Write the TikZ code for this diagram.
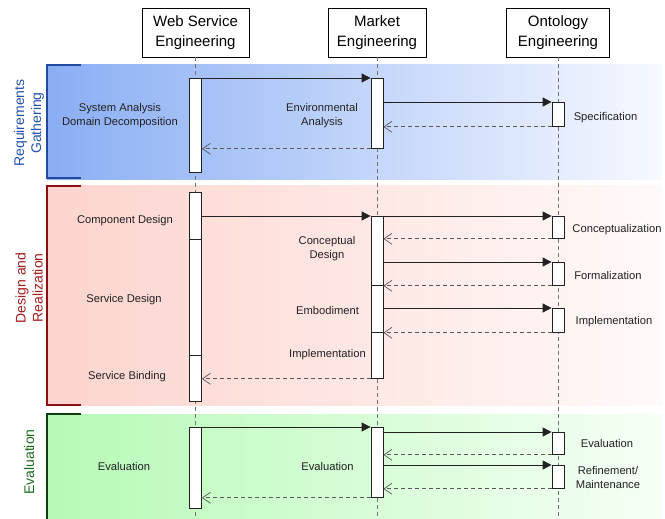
\documentclass[tikz,border=0pt]{standalone}
\usepackage{fontspec}
\setmainfont{Liberation Sans}
\usetikzlibrary{arrows.meta,calc}
\definecolor{reqC}{HTML}{2452AE}
\definecolor{desC}{HTML}{A51C1C}
\definecolor{evaC}{HTML}{1D6B1D}
\definecolor{reqB}{HTML}{1F4AA0}
\definecolor{desB}{HTML}{8B1010}
\definecolor{evaB}{HTML}{0E3E0E}
\definecolor{reqL}{HTML}{8AAEF4}
\definecolor{reqR}{HTML}{F7F9FF}
\definecolor{desL}{HTML}{FDD4CE}
\definecolor{desR}{HTML}{FFFAF9}
\definecolor{evaL}{HTML}{B6FAB6}
\definecolor{evaR}{HTML}{F6FFF6}
\definecolor{ink}{HTML}{222222}
\begin{document}
\begin{tikzpicture}[x=1pt,y=-1pt,
  hdr/.style={draw=black, line width=0.8pt, fill=white, minimum width=#1, minimum height=49pt, align=center, font=\fontsize{15}{20}\selectfont, inner sep=0pt},
  bar/.style={draw=ink, line width=0.8pt, fill=white, minimum width=12pt, minimum height=#1, inner sep=0pt, anchor=north},
  lbl/.style={align=center, font=\fontsize{11.2}{14}\selectfont, text=ink, inner sep=0pt},
  life/.style={draw=black!55, dash pattern=on 4pt off 3pt, line width=0.6pt},
  call/.style={draw=ink, line width=0.8pt, -{Triangle[length=9pt,width=9pt]}},
  ret/.style={draw=black!65, line width=0.7pt, dash pattern=on 4pt off 3pt, -{Straight Barb[length=8pt,width=11pt]}},
  side/.style={rotate=90, align=center, font=\fontsize{14}{17}\selectfont, inner sep=0pt},
  brk/.style={line width=1.4pt}
]
\useasboundingbox (0,0) rectangle (665,519);

% bands
\shade[left color=reqL, right color=reqR] (47,65) rectangle (662,179);
\shade[left color=desL, right color=desR] (47,185) rectangle (662,405);
\shade[left color=evaL, right color=evaR] (47,414) rectangle (662,519);

% brackets
\draw[brk, reqB] (81,65) -| (47,178) -- (81,178);
\draw[brk, desB] (81,186) -| (47,405) -- (81,405);
\draw[brk, evaB] (81,414) -| (47,519);

% side labels
\node[side, text=reqC] (sr) at (29,123) {Requirements\\Gathering};
\node[side, text=desC] (sd) at (29,288) {Design and\\Realization};
\node[side, text=evaC] (se) at (29,462) {Evaluation};

% headers
\node[hdr=107pt] (hw) at (195.5,32.5) {Web Service\\Engineering};
\node[hdr=98pt] (hm) at (377,32.5) {Market\\Engineering};
\node[hdr=103pt] (ho) at (558,32.5) {Ontology\\Engineering};

\coordinate (bot) at (0,519);
\draw[life] (hw.south) -- (hw.south |- bot);
\draw[life] (hm.south) -- (hm.south |- bot);
\draw[life] (ho.south) -- (ho.south |- bot);

% activation bars
\node[bar=94pt] (w1) at (195.5,78) {};
\node[bar=70pt] (m1) at (377,78) {};
\node[bar=24pt] (o1) at (558,102) {};

\node[bar=47pt] (w2a) at (195.5,192) {};
\node[bar=116pt] (w2b) at (195.5,239) {};
\node[bar=46pt] (w2c) at (195.5,355) {};
\node[bar=69pt] (m2a) at (377,216) {};
\node[bar=47pt] (m2b) at (377,285) {};
\node[bar=46pt] (m2c) at (377,332) {};
\node[bar=22pt] (o2) at (558,216) {};
\node[bar=23pt] (o3) at (558,262) {};
\node[bar=24pt] (o4) at (558,308) {};

\node[bar=81pt] (w3) at (195.5,427) {};
\node[bar=70pt] (m3) at (377,427) {};
\node[bar=22pt] (o5) at (558,432) {};
\node[bar=23pt] (o6) at (558,465) {};

% messages: requirements
\draw[call] (w1.north east) -- (m1.north west);
\draw[call] (m1.east |- o1.north) -- (o1.north west);
\draw[ret] (o1.south west) -- (m1.east |- o1.south);
\draw[ret] (m1.south west) -- (w1.east |- m1.south);

% messages: design
\draw[call] (w2a.east |- m2a.north) -- (m2a.north west);
\draw[call] (m2a.north east) -- (o2.north west);
\draw[ret] (o2.south west) -- (m2a.east |- o2.south);
\draw[call] (m2a.east |- o3.north) -- (o3.north west);
\draw[ret] (o3.south west) -- (m2b.east |- o3.south);
\draw[call] (m2b.east |- o4.north) -- (o4.north west);
\draw[ret] (o4.south west) -- (m2c.east |- o4.south);
\draw[ret] (m2c.south west) -- (w2c.east |- m2c.south);

% messages: evaluation
\draw[call] (w3.north east) -- (m3.north west);
\draw[call] (m3.east |- o5.north) -- (o5.north west);
\draw[ret] (o5.south west) -- (m3.east |- o5.south);
\draw[call] (m3.east |- o6.north) -- (o6.north west);
\draw[ret] (o6.south west) -- (m3.east |- o6.south);
\draw[ret] (m3.south west) -- (w3.east |- m3.south);

% labels
\node[lbl] (t1) at (120,115.5) {System Analysis\\Domain Decomposition};
\node[lbl] (t2) at (322,115.5) {Environmental\\Analysis};
\node[lbl] (t3) at (605.5,117.5) {Specification};

\node[lbl] (t4) at (125,220.5) {Component Design};
\node[lbl] (t5) at (124,299.5) {Service Design};
\node[lbl] (t6) at (127,376.5) {Service Binding};
\node[lbl] (t7) at (327,249) {Conceptual\\Design};
\node[lbl] (t8) at (327.5,310.5) {Embodiment};
\node[lbl] (t9) at (327.5,354.5) {Implementation};
\node[lbl] (t10) at (617,229.5) {Conceptualization};
\node[lbl] (t11) at (608,275.5) {Formalization};
\node[lbl] (t12) at (614,321.5) {Implementation};

\node[lbl] (t13) at (124,466.5) {Evaluation};
\node[lbl] (t14) at (327.5,466.5) {Evaluation};
\node[lbl] (t15) at (607,443.5) {Evaluation};
\node[lbl] (t16) at (608,477.5) {Refinement/\\Maintenance};
\end{tikzpicture}
\end{document}
